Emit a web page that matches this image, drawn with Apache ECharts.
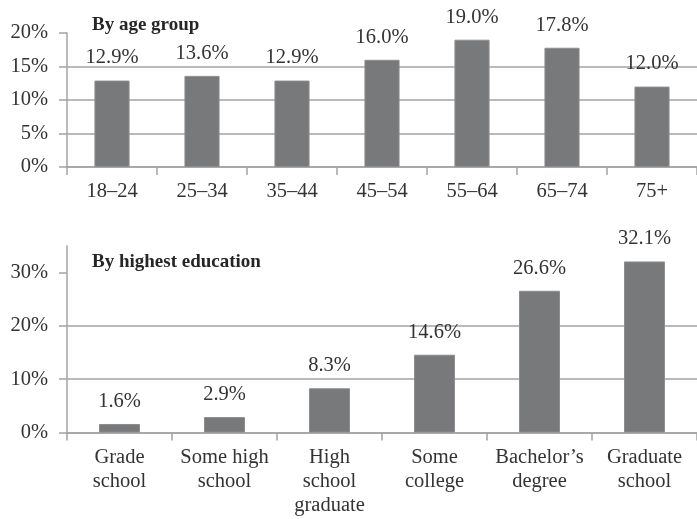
<!DOCTYPE html>
<html>
<head>
<meta charset="utf-8">
<script src="https://cdn.jsdelivr.net/npm/echarts@6/dist/echarts.min.js"></script>
<style>
  html, body { margin: 0; padding: 0; background: #fff; }
  #chart { width: 697px; height: 519px; }
</style>
</head>
<body>
<div id="chart"></div>
<script>
// Share of each group, in percent
const ageGroups = ['18–24', '25–34', '35–44', '45–54', '55–64', '65–74', '75+'];
const ageValues = [12.9, 13.6, 12.9, 16.0, 19.0, 17.8, 12.0];

const eduGroups = ['Grade\nschool', 'Some high\nschool', 'High\nschool\ngraduate', 'Some\ncollege', 'Bachelor’s\ndegree', 'Graduate\nschool'];
const eduValues = [1.6, 2.9, 8.3, 14.6, 26.6, 32.1];

const ageTicks = [0, 5, 10, 15, 20];
const eduTicks = [0, 10, 20, 30];

const FONT = 'Liberation Serif';
const TEXT = '#333333';
const LINE = '#a3a3a3';
const BAR = '#78797b';

const chart = echarts.init(document.getElementById('chart'));

function xAxisFor(cats, gridIndex) {
  return {
    type: 'category',
    gridIndex: gridIndex,
    data: cats,
    axisLine: { show: true, lineStyle: { color: LINE, width: 1.5 } },
    axisTick: { show: true, length: 8, lineStyle: { color: LINE, width: 1.5 } },
    axisLabel: { color: TEXT, fontFamily: FONT, fontSize: 20.5, lineHeight: 24, margin: 13, interval: 0 },
    splitLine: { show: false }
  };
}

function yAxisFor(max, interval, ticks, gridIndex) {
  return {
    type: 'value',
    gridIndex: gridIndex,
    min: 0,
    max: max,
    interval: interval,
    axisLine: { show: true, lineStyle: { color: LINE, width: 1.5 } },
    axisTick: { show: true, length: 8, customValues: ticks, lineStyle: { color: LINE, width: 1.5 } },
    axisLabel: {
      customValues: ticks,
      formatter: v => v + '%',
      color: TEXT, fontFamily: FONT, fontSize: 20.5, margin: 19
    },
    splitLine: { show: true, showMaxLine: false, lineStyle: { color: LINE, width: 1.5 } }
  };
}

function barSeries(values, axisIndex) {
  return {
    type: 'bar',
    xAxisIndex: axisIndex,
    yAxisIndex: axisIndex,
    data: values,
    barWidth: '39%',
    itemStyle: { color: BAR, borderColor: '#8c8d8f', borderWidth: 1 },
    label: {
      show: true,
      position: 'top',
      distance: 12,
      formatter: p => p.value.toFixed(1) + '%',
      color: TEXT, fontFamily: FONT, fontSize: 20.5
    },
    silent: true,
    animation: false
  };
}

chart.setOption({
  backgroundColor: '#ffffff',
  animation: false,
  title: [
    { text: 'By age group', left: 87, top: 11,
      textStyle: { fontFamily: FONT, fontSize: 19, fontWeight: 'bold', color: '#262626' } },
    { text: 'By highest education', left: 87, top: 248,
      textStyle: { fontFamily: FONT, fontSize: 19, fontWeight: 'bold', color: '#262626' } }
  ],
  grid: [
    { left: 67, top: 33, width: 635, height: 134, containLabel: false },
    { left: 67, top: 246, width: 635, height: 186.5, containLabel: false }
  ],
  xAxis: [xAxisFor(ageGroups, 0), xAxisFor(eduGroups, 1)],
  yAxis: [yAxisFor(20, 5, ageTicks, 0), yAxisFor(35, 10, eduTicks, 1)],
  series: [barSeries(ageValues, 0), barSeries(eduValues, 1)]
});
</script>
</body>
</html>
